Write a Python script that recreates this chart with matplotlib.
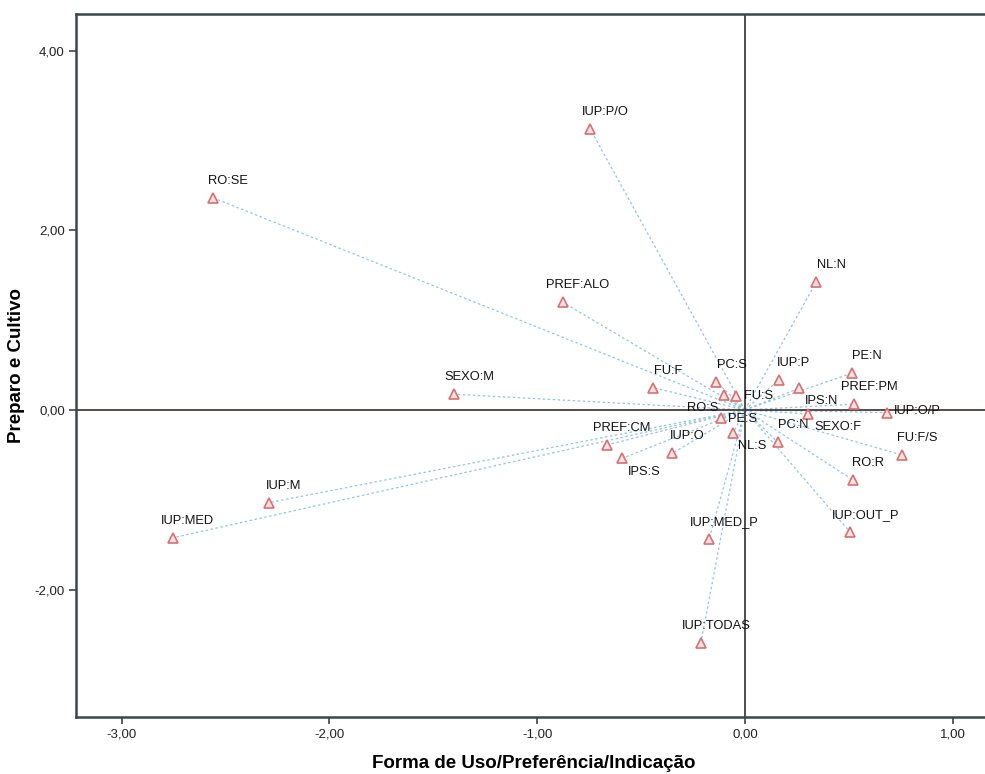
import numpy as np
import matplotlib
matplotlib.use('Agg')
from matplotlib import pyplot as plt

plt.rcParams['font.family'] = ['Liberation Sans', 'DejaVu Sans']

# category points (dimension 1, dimension 2)
labels = ['RO:SE', 'IUP:P/O', 'PREF:ALO', 'NL:N', 'SEXO:M', 'FU:F', 'PC:S', 'RO:S',
          'FU:S', 'IUP:P', 'IPS:N', 'PE:N', 'PREF:PM', 'SEXO:F', 'IUP:O/P', 'PE:S',
          'NL:S', 'PC:N', 'PREF:CM', 'IUP:O', 'IPS:S', 'FU:F/S', 'RO:R', 'IUP:M',
          'IUP:MED', 'IUP:MED_P', 'IUP:OUT_P', 'IUP:TODAS']
dim1 = [-2.561, -0.745, -0.878, 0.343, -1.399, -0.442, -0.137, -0.099,
        -0.045, 0.163, 0.262, 0.515, 0.525, 0.306, 0.684, -0.116,
        -0.056, 0.158, -0.664, -0.349, -0.590, 0.756, 0.520, -2.292,
        -2.754, -0.172, 0.507, -0.212]
dim2 = [2.363, 3.129, 1.201, 1.424, 0.175, 0.249, 0.316, 0.167,
        0.156, 0.334, 0.242, 0.409, 0.064, -0.045, -0.030, -0.093,
        -0.253, -0.360, -0.390, -0.483, -0.538, -0.502, -0.780, -1.033,
        -1.424, -1.438, -1.363, -2.594]

xticks = [-3, -2, -1, 0, 1]
yticks = [-2, 0, 2, 4]

# label offsets in pixels (default: above and slightly right)
offsets = {'RO:S': (-22, -13), 'FU:S': (23, 0), 'IPS:N': (22, -13),
           'SEXO:F': (29, -13), 'IUP:O/P': (30, 2), 'PE:S': (22, -1),
           'NL:S': (19, -13), 'IPS:S': (22, -14)}

fig = plt.figure(figsize=(9.85, 7.74), dpi=100)
ax = fig.add_axes([0.0772, 0.0736, 0.93, 0.9084])

axis_col = '#3b4848'
for x, y in zip(dim1, dim2):
    ax.plot([0, x], [0, y], color='#93c4e2', lw=0.9, ls=(0, (2, 2)), zorder=1)

ax.axhline(0, color='#4a3a36', lw=1.3, zorder=2)
ax.axvline(0, color='#3b4040', lw=1.3, zorder=2)

ax.plot(dim1, dim2, ls='none', marker='^', ms=7, mfc='#fbe3e3', mec='#d9706f',
        mew=1.2, zorder=3)

for lab, x, y in zip(labels, dim1, dim2):
    dx, dy = offsets.get(lab, (15, 17))
    ax.annotate(lab, (x, y), xytext=(dx, dy), textcoords='offset pixels',
                ha='center', va='center', fontsize=9.3, color='#111111', zorder=4)

ax.set_xlim(-3.22, 1.19)
ax.set_ylim(-3.42, 4.41)
ax.set_xticks(xticks)
ax.set_yticks(yticks)
ax.set_xticklabels([('%.2f' % t).replace('.', ',') for t in xticks])
ax.set_yticklabels([('%.2f' % t).replace('.', ',') for t in yticks])
ax.tick_params(direction='out', length=5, width=1.2, color=axis_col,
               labelsize=9.5, labelcolor='#222222', pad=3)

for s in ['left', 'bottom', 'top']:
    ax.spines[s].set_color(axis_col)
    ax.spines[s].set_linewidth(1.8)
ax.spines['right'].set_visible(False)

ax.set_xlabel('Forma de Uso/Preferência/Indicação', fontsize=13.5, fontweight='bold', labelpad=11)
ax.set_ylabel('Preparo e Cultivo', fontsize=13.5, fontweight='bold', labelpad=7)

plt.savefig('out.png', dpi=100)
